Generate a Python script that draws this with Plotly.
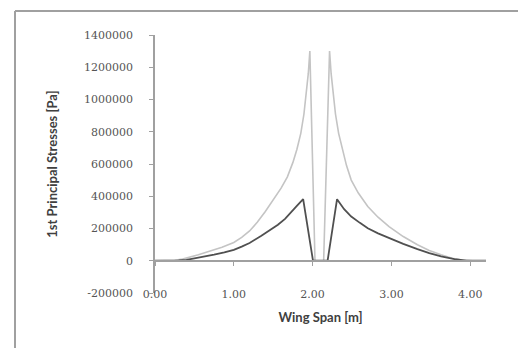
import plotly.graph_objects as go

# Light grey series
light_x = [0.00, 0.15, 0.25, 0.35, 0.45, 0.55, 0.65, 0.75, 0.85, 1.00, 1.10, 1.20, 1.30, 1.40, 1.50,
           1.60, 1.68, 1.75, 1.80, 1.85, 1.89, 1.92, 1.945, 1.965,
           2.03, 2.14,
           2.215, 2.235, 2.26, 2.29, 2.33, 2.38, 2.43, 2.49, 2.58, 2.70, 2.83, 2.97, 3.15, 3.33,
           3.48, 3.63, 3.77, 3.90, 4.03, 4.20]
light_y = [0, 0, 3000, 10000, 22000, 37000, 52000, 68000, 84000, 113000, 145000, 185000, 240000, 305000, 375000,
           450000, 520000, 610000, 690000, 790000, 910000, 1030000, 1160000, 1300000,
           0, 0,
           1300000, 1160000, 1030000, 910000, 790000, 690000, 590000, 500000, 420000, 336000, 270000, 212000, 150000, 99000,
           64000, 37000, 15000, 5000, 0, 0]

# Dark grey series
dark_x = [0.00, 0.20, 0.30, 0.40, 0.51, 0.63, 0.75, 0.88, 1.00, 1.10, 1.20, 1.35, 1.45, 1.56, 1.65,
          1.73, 1.80, 1.88,
          2.005, 2.19,
          2.31, 2.40, 2.49, 2.60, 2.70, 2.83, 2.97, 3.15, 3.33, 3.48, 3.63, 3.80, 3.95, 4.20]
dark_y = [0, 0, 2000, 6000, 15000, 25000, 38000, 52000, 68000, 88000, 110000, 155000, 185000, 223000, 260000,
          305000, 340000, 382000,
          0, 0,
          382000, 320000, 274000, 235000, 202000, 170000, 140000, 105000, 72000, 47000, 27000, 10000, 0, 0]

x_ticks = [0, 1, 2, 3, 4]
x_ticktext = ["0.00", "1.00", "2.00", "3.00", "4.00"]
y_ticks = [-200000, 0, 200000, 400000, 600000, 800000, 1000000, 1200000, 1400000]
y_ticktext = ["-200000", "0", "200000", "400000", "600000", "800000", "1000000", "1200000", "1400000"]

x_range = [0, 4.2]
y_range = [-200000, 1400000]

fig = go.Figure()
fig.add_trace(go.Scatter(x=light_x, y=light_y, mode="lines",
                         line=dict(color="#c4c4c4", width=1.6), showlegend=False))
fig.add_trace(go.Scatter(x=dark_x, y=dark_y, mode="lines",
                         line=dict(color="#505050", width=1.8), showlegend=False))
# invisible trace to carry the crossing x-axis
fig.add_trace(go.Scatter(x=[x_range[0]], y=[0], xaxis="x2", mode="markers",
                         marker=dict(opacity=0), showlegend=False, hoverinfo="skip"))

tickfont = dict(family="DejaVu Serif", size=11, color="#555555")
titlefont = dict(family="Lato", size=13, color="#404040", weight="bold")

zero_pos = (0 - y_range[0]) / (y_range[1] - y_range[0])

fig.update_layout(
    width=518, height=348,
    margin=dict(l=155, r=32, t=35, b=55),
    paper_bgcolor="white", plot_bgcolor="white",
    xaxis=dict(range=x_range, tickvals=x_ticks, ticktext=x_ticktext,
               anchor="free", position=0.027,
               showline=False, showgrid=False, zeroline=False, ticks="",
               tickfont=tickfont,
               title=dict(text="Wing Span [m]", font=titlefont, standoff=12)),
    xaxis2=dict(range=x_range, overlaying="x", anchor="free", position=zero_pos,
                tickvals=x_ticks, showticklabels=False, ticks="outside", ticklen=4,
                tickcolor="#a0a0a0", showline=True, linecolor="#a0a0a0", linewidth=1.5,
                showgrid=False, zeroline=False),
    yaxis=dict(range=y_range, tickvals=y_ticks, ticktext=y_ticktext, showline=True,
               linecolor="#a0a0a0", linewidth=1.5, ticks="outside", ticklen=4, tickcolor="#a0a0a0",
               showgrid=False, zeroline=False, tickfont=tickfont,
               ticklabelstandoff=14,
               title=dict(text="1st Principal Stresses [Pa]", font=titlefont, standoff=23)),
)

# outer chart frame, left edge
fig.add_shape(type="line", xref="paper", yref="paper", xsizemode="pixel", ysizemode="pixel",
              xanchor=0, yanchor=1, x0=-140, x1=-140, y0=24, y1=-320,
              line=dict(color="#a0a0a0", width=2))

post = (
    "document.body.style.margin='0px';"
    "var f=document.createElement('div');"
    "f.style.position='absolute';f.style.left='15px';f.style.top='10px';"
    "f.style.width='520px';f.style.height='0px';"
    "f.style.borderTop='2px solid #a0a0a0';f.style.pointerEvents='none';"
    "document.body.appendChild(f);"
)

fig.write_html("out.html", config={"displayModeBar": False}, post_script=post)
